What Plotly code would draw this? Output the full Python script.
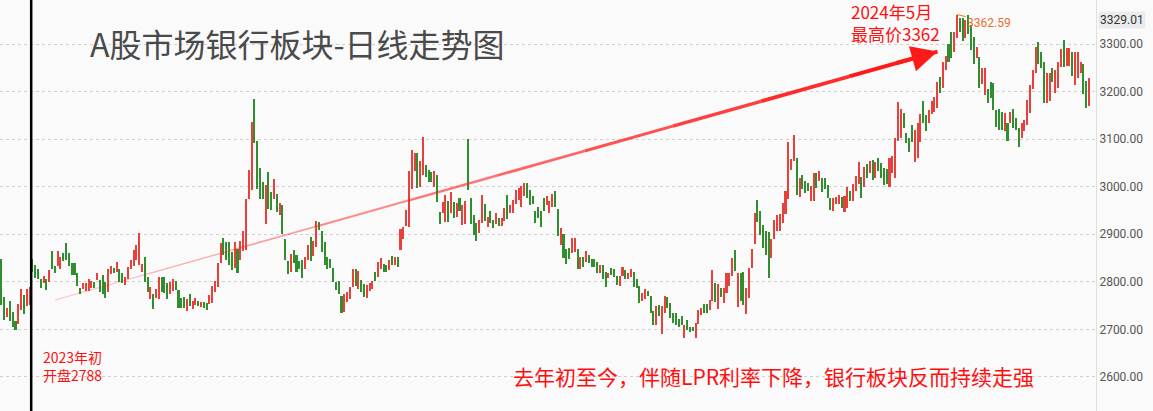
import plotly.graph_objects as go

# daily highs / lows of the bank sector index
highs = [
    2849, 2768, 2744, 2760, 2737, 2718, 2753, 2786, 2772, 2786,
    2789, 2849, 2835, 2828, 2805, 2812, 2807, 2825, 2865, 2833,
    2865, 2853, 2860, 2882, 2860, 2839, 2839, 2818, 2788, 2798,
    2798, 2807, 2802, 2800, 2818, 2804, 2814, 2800, 2827, 2833,
    2830, 2842, 2828, 2818, 2811, 2832, 2846, 2867, 2877, 2902,
    2837, 2853, 2811, 2789, 2775, 2786, 2811, 2811, 2811, 2797,
    2799, 2806, 2802, 2783, 2767, 2769, 2764, 2774, 2760, 2767,
    2760, 2757, 2757, 2755, 2772, 2792, 2802, 2839, 2881, 2893,
    2883, 2884, 2863, 2884, 2870, 2886, 2907, 2975, 3035, 3136,
    3185, 3096, 3040, 3010, 3003, 3030, 2989, 3016, 2984, 2965,
    2961, 2891, 2844, 2858, 2867, 2856, 2844, 2846, 2853, 2877,
    2895, 2886, 2928, 2925, 2907, 2883, 2853, 2849, 2830, 2800,
    2802, 2771, 2774, 2778, 2790, 2827, 2828, 2823, 2804, 2795,
    2793, 2797, 2802, 2821, 2841, 2851, 2837, 2835, 2846, 2855,
    2853, 2853, 2912, 2916, 2951, 3033, 3077, 3070, 3070, 3054,
    3105, 3045, 3035, 3031, 3033, 3024, 2947, 2967, 2982, 2970,
    2989, 2967, 2965, 2977, 2962, 2969, 3100, 2976, 2941, 2923,
    2930, 2982, 2963, 2937, 2948, 2930, 2944, 2934, 2935, 2956,
    2983, 2962, 2973, 2994, 2997, 3001, 3008, 3008, 2994, 2980,
    2949, 2958, 2948, 2977, 2980, 2969, 2985, 2992, 2954, 2914,
    2900, 2870, 2871, 2892, 2892, 2869, 2853, 2853, 2865, 2856,
    2849, 2848, 2841, 2835, 2835, 2820, 2819, 2829, 2826, 2812,
    2812, 2831, 2824, 2819, 2826, 2821, 2805, 2791, 2777, 2784,
    2780, 2770, 2738, 2749, 2752, 2749, 2770, 2768, 2756, 2735,
    2735, 2721, 2728, 2709, 2719, 2705, 2705, 2714, 2740, 2746,
    2754, 2754, 2761, 2824, 2798, 2796, 2787, 2787, 2819, 2819,
    2850, 2868, 2819, 2819, 2820, 2788, 2830, 2870, 2944, 2972,
    2949, 2919, 2906, 2905, 2891, 2931, 2941, 2943, 2965, 2991,
    3094, 3059, 3109, 3061, 3018, 3025, 3011, 3007, 3002, 3028,
    3028, 3032, 3018, 3018, 3004, 2976, 2976, 2979, 2983, 2979,
    2981, 3000, 2991, 3005, 3023, 3051, 3021, 3042, 3047, 3054,
    3056, 3052, 3061, 3049, 3039, 3037, 3061, 3065, 3103, 3178,
    3164, 3154, 3112, 3103, 3130, 3119, 3133, 3152, 3180, 3151,
    3161, 3180, 3189, 3221, 3231, 3263, 3274, 3299, 3325, 3325,
    3362, 3355, 3355, 3350, 3362, 3340, 3315, 3294, 3273, 3250,
    3249, 3205, 3221, 3217, 3161, 3163, 3158, 3154, 3133, 3158,
    3163, 3144, 3124, 3133, 3140, 3182, 3214, 3245, 3294, 3305,
    3284, 3263, 3238, 3240, 3250, 3245, 3263, 3290, 3308, 3291,
    3291, 3284, 3284, 3284, 3263, 3259, 3222, 3228,
]
lows = [
    2751, 2719, 2726, 2718, 2706, 2699, 2712, 2740, 2733, 2749,
    2752, 2821, 2809, 2807, 2788, 2798, 2782, 2799, 2827, 2818,
    2833, 2828, 2844, 2846, 2833, 2815, 2815, 2791, 2774, 2785,
    2781, 2781, 2788, 2788, 2804, 2779, 2775, 2767, 2779, 2816,
    2819, 2821, 2800, 2798, 2793, 2805, 2826, 2833, 2846, 2835,
    2821, 2800, 2779, 2765, 2742, 2767, 2765, 2779, 2776, 2765,
    2774, 2781, 2783, 2744, 2746, 2744, 2739, 2750, 2743, 2751,
    2750, 2748, 2746, 2740, 2753, 2755, 2779, 2790, 2839, 2856,
    2846, 2835, 2825, 2830, 2818, 2846, 2865, 2867, 2975, 2993,
    3091, 2996, 2974, 2974, 2921, 2954, 2951, 2975, 2946, 2940,
    2900, 2846, 2816, 2821, 2839, 2821, 2828, 2809, 2827, 2846,
    2844, 2855, 2874, 2909, 2863, 2835, 2828, 2830, 2800, 2783,
    2774, 2734, 2736, 2757, 2765, 2790, 2792, 2786, 2778, 2769,
    2767, 2781, 2786, 2802, 2811, 2828, 2820, 2821, 2825, 2835,
    2835, 2832, 2867, 2891, 2918, 2916, 2996, 3033, 2998, 2999,
    3024, 3021, 3010, 3009, 3000, 2967, 2921, 2944, 2925, 2925,
    2944, 2935, 2937, 2948, 2920, 2921, 2993, 2921, 2899, 2885,
    2902, 2923, 2927, 2916, 2923, 2913, 2921, 2918, 2918, 2927,
    2932, 2944, 2944, 2963, 2973, 2958, 2980, 2976, 2962, 2963,
    2923, 2934, 2916, 2949, 2962, 2944, 2958, 2958, 2897, 2877,
    2851, 2837, 2848, 2860, 2862, 2827, 2827, 2832, 2841, 2839,
    2832, 2832, 2818, 2818, 2807, 2790, 2808, 2814, 2810, 2793,
    2792, 2812, 2805, 2805, 2810, 2789, 2787, 2756, 2759, 2763,
    2770, 2735, 2709, 2709, 2728, 2691, 2735, 2745, 2724, 2714,
    2709, 2705, 2709, 2683, 2698, 2695, 2697, 2683, 2712, 2730,
    2735, 2735, 2740, 2759, 2758, 2742, 2768, 2756, 2777, 2791,
    2812, 2822, 2747, 2760, 2752, 2732, 2766, 2829, 2879, 2925,
    2899, 2871, 2857, 2809, 2850, 2891, 2906, 2907, 2923, 2942,
    2975, 3035, 3054, 2983, 2979, 2995, 2986, 2990, 2970, 2969,
    2997, 3011, 2989, 2995, 2976, 2951, 2949, 2963, 2963, 2955,
    2946, 2955, 2969, 2969, 2991, 3005, 2976, 3000, 3019, 3028,
    3014, 3018, 3032, 3019, 3004, 3005, 3000, 3028, 3019, 3096,
    3102, 3123, 3091, 3074, 3095, 3053, 3060, 3095, 3133, 3117,
    3133, 3152, 3158, 3166, 3198, 3208, 3245, 3263, 3271, 3284,
    3312, 3326, 3306, 3313, 3322, 3287, 3259, 3270, 3207, 3215,
    3193, 3175, 3187, 3161, 3126, 3119, 3119, 3117, 3096, 3133,
    3123, 3119, 3084, 3102, 3117, 3130, 3154, 3205, 3238, 3257,
    3249, 3175, 3175, 3180, 3221, 3196, 3208, 3252, 3252, 3254,
    3254, 3233, 3214, 3228, 3240, 3194, 3166, 3170,
]
# r = up day (red), g = down day (green)
dirs = (
    "ggrgggrrgr" "rggggrgrgg" "rrgggggggr" "rrrgrgggrr" "grggrrrrrr"
    "rggrgrrggg" "rrggggrgrr" "grggrrrrrg" "gggrgrrrrr" "ggggrggrgr"
    "gggrggggrr" "grrggggggg" "ggrrrrgrgg" "rrrgrrggrg" "rgrrrrrrgr"
    "rgggrggrrg" "rgrgrrgggg" "rrgrggrgrr" "grrrrrrggg" "ggggrrrggr"
    "gggrrgrgrg" "gggrggrggg" "rrgrrgggrr" "gggrgrrggg" "gggrgggrrr"
    "ggrrgrgrrr" "rgrggrrrrg" "ggggrrrrrr" "rrrgrgggrr" "grggggrrrg"
    "rrgrrrgrgr" "grggggrrrr" "rggggrrrgg" "rrrrgrrggr" "rggrgggrgr"
    "rggggggrgr" "gggrrrrrrg" "ggrrgrrrgr" "rgrrrggr"
)
y_ticks = [2600, 2700, 2800, 2900, 3000, 3100, 3200, 3300]

RED = "#e8413c"
GREEN = "#2f8f2f"
CJK = "Noto Sans CJK SC"

x = list(range(len(highs)))
fig = go.Figure()
fig.add_trace(go.Bar(
    x=x, y=[h - l for h, l in zip(highs, lows)], base=lows,
    marker=dict(color=[RED if d == "r" else GREEN for d in dirs], line_width=0),
    width=0.55, hoverinfo="skip",
))

# the trend arrow, thin and pale at the start, thick at the end
x0, p0, x1, p1 = 19, 2762, 333, 3284
n = 10
for i in range(n):
    a, b = i / n, (i + 1) / n
    fig.add_shape(type="line", xref="x", yref="y",
                  x0=x0 + (x1 - x0) * a, y0=p0 + (p1 - p0) * a,
                  x1=x0 + (x1 - x0) * b, y1=p0 + (p1 - p0) * b,
                  line=dict(color="#ff1a1a", width=0.8 + 3.2 * b), opacity=0.15 + 0.85 * b)
fig.add_annotation(x=x1, y=p1, ax=x1 - 15, ay=p1 - 15 * (p1 - p0) / (x1 - x0),
                   axref="x", ayref="y", text="", showarrow=True,
                   arrowhead=2, arrowsize=1.3, arrowwidth=4, arrowcolor="#ff1a1a")

# black marker line at the start of 2023
fig.add_shape(type="line", xref="x", yref="paper", x0=10.5, x1=10.5, y0=0, y1=1,
              line=dict(color="black", width=2.5))

fig.add_annotation(x=0.08, y=0.895, xref="paper", yref="paper", xanchor="left", yanchor="middle",
                   text="A股市场银行板块-日线走势图", showarrow=False,
                   font=dict(family=CJK, size=32, color="#4a4a4a"))
fig.add_annotation(x=0.775, y=0.945, xref="paper", yref="paper", xanchor="left", yanchor="middle",
                   text="2024年5月<br>最高价3362", showarrow=False, align="left",
                   font=dict(family=CJK, size=17, color="#ff1010"))
fig.add_annotation(x=340, y=3362, ax=32, ay=8, text="3362.59", showarrow=True,
                   arrowhead=0, arrowwidth=1, arrowcolor="#e8702a",
                   font=dict(family="Roboto", size=12, color="#e8702a"))
fig.add_annotation(x=0.037, y=0.11, xref="paper", yref="paper", xanchor="left", yanchor="middle",
                   text="2023年初<br>开盘2788", showarrow=False, align="left",
                   font=dict(family=CJK, size=14, color="#ff1010"))
fig.add_annotation(x=0.466, y=0.085, xref="paper", yref="paper", xanchor="left", yanchor="middle",
                   text="去年初至今，伴随LPR利率下降，银行板块反而持续走强", showarrow=False,
                   font=dict(family=CJK, size=21, color="#ff1010"))
fig.add_annotation(x=1, y=3350, xref="paper", yref="y", xanchor="left", xshift=2,
                   text="3329.01", showarrow=False, bgcolor="#ebebeb",
                   font=dict(family="Roboto", size=12, color="#333"))

fig.update_layout(
    width=1153, height=411, margin=dict(l=0, r=57, t=0, b=0),
    paper_bgcolor="#fafafa", plot_bgcolor="#fafafa", showlegend=False, bargap=0,
    xaxis=dict(range=[-0.6, 389.4], visible=False),
    yaxis=dict(range=[2528.5, 3392.5], side="right", tickvals=y_ticks,
               ticktext=[f"{v:.2f}" for v in y_ticks], showgrid=True,
               gridcolor="#cfcfcf", griddash="dot", zeroline=False,
               showline=True, linecolor="#e0e0e0",
               tickfont=dict(family="Roboto", size=12, color="#555")),
)
fig.write_html("out.html", config={"displayModeBar": False},
               post_script="document.body.style.margin='0';")
